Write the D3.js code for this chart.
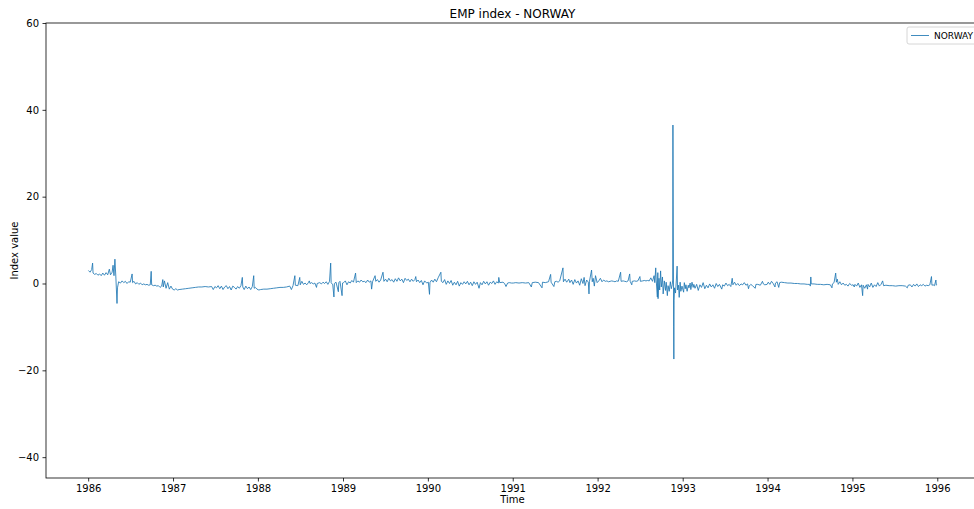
<!DOCTYPE html>
<html>
<head>
<meta charset="utf-8">
<script src="https://cdn.jsdelivr.net/npm/d3@7"></script>
<style>
  body { margin: 0; background: #fff; overflow: hidden; }
  svg { font-family: "DejaVu Sans", sans-serif; display: block; }
</style>
</head>
<body>
<div class="graphic"></div>
<script>
// EMP index for Norway (month-day, value) per year
const y1986 = [["01-02",3.0],["01-09",2.6],["01-16",3.2],["01-20",4.7],["01-22",2.4],["01-29",2.1],["02-05",2.3],["02-12",1.9],
  ["02-19",2.2],["02-26",1.8],["03-05",2.4],["03-12",1.9],["03-19",2.5],["03-26",2.0],["04-02",3.3],["04-07",2.0],["04-14",2.6],
  ["04-18",4.2],["04-22",1.8],["04-26",5.6],["04-30",1.5],["05-05",-4.6],["05-07",-1.0],["05-12",0.4],["05-20",0.1],["05-27",0.6],
  ["06-03",0.2],["06-10",0.5],["06-17",0.0],["06-24",0.4],["07-01",0.3],["07-09",2.2],["07-11",0.2],["07-17",0.5],["07-24",-0.1],
  ["07-31",0.2],["08-07",-0.2],["08-14",0.1],["08-21",-0.3],["08-28",-0.1],["09-04",-0.3],["09-11",-0.2],["09-18",-0.4],["09-25",-0.3],
  ["09-29",2.8],["10-01",-0.3],["10-09",-0.5],["10-16",-0.4],["10-23",-0.6],["10-30",-0.5],["11-06",-0.9],["11-13",-0.6],["11-18",0.9],
  ["11-20",-0.8],["11-25",0.6],["12-02",-1.1],["12-09",0.2],["12-16",-1.3],["12-23",-0.6],["12-30",-1.3]];
const y1987 = [["01-06",-1.5],["01-13",-1.2],["01-20",-1.5],["01-27",-1.4],["02-10",-1.3],["02-24",-1.2],["03-10",-1.1],["03-24",-1.0],
  ["04-07",-0.9],["04-21",-0.8],["05-05",-0.8],["05-19",-0.7],["06-02",-0.8],["06-16",-0.7],["06-23",-1.4],["06-30",-0.7],["07-07",-1.0],
  ["07-14",-0.5],["07-21",-1.2],["07-28",-0.6],["08-04",-1.4],["08-11",-0.8],["08-18",-0.5],["08-25",-1.2],["09-01",-0.7],["09-08",-1.5],
  ["09-15",-0.6],["09-22",-0.9],["09-29",-1.3],["10-06",-0.7],["10-13",-1.1],["10-20",-0.5],["10-26",1.4],["10-28",-0.8],["11-03",-1.4],
  ["11-10",-0.6],["11-17",-1.2],["11-24",-0.8],["12-01",-1.4],["12-08",-0.7],["12-14",1.8],["12-16",-1.1],["12-21",-0.9],["12-28",-1.3]];
const y1988 = [["01-05",-1.5],["01-12",-1.4],["01-26",-1.3],["02-09",-1.3],["02-23",-1.2],["03-08",-1.1],["03-22",-1.0],["04-05",-0.9],
  ["04-19",-0.9],["05-03",-0.8],["05-17",-0.6],["05-24",-1.4],["05-31",-0.5],["06-08",1.8],["06-10",-0.4],["06-21",-0.5],["06-29",1.4],
  ["07-01",-0.3],["07-08",0.5],["07-15",-0.2],["07-22",0.1],["07-29",-0.3],["08-05",0.2],["08-09",0.6],["08-12",0.0],["08-19",0.2],
  ["08-26",-0.1],["09-02",0.1],["09-09",-0.9],["09-12",0.0],["09-23",0.2],["09-30",-0.1],["10-07",0.3],["10-14",0.0],["10-21",0.4],
  ["10-28",-0.2],["11-04",0.5],["11-09",4.7],["11-11",0.2],["11-18",-0.3],["11-23",-3.1],["11-25",0.0],["12-02",0.3],["12-12",-1.9],
  ["12-14",0.2],["12-19",0.5],["12-28",-2.8],["12-30",0.1]];
const y1989 = [["01-04",0.2],["01-11",0.6],["01-18",-0.3],["01-25",0.4],["02-01",0.1],["02-08",0.7],["02-15",0.3],["02-24",2.4],
  ["02-27",0.2],["03-06",0.6],["03-13",0.3],["03-20",0.8],["03-27",0.4],["04-03",0.5],["04-10",0.2],["04-17",0.8],["04-24",0.3],
  ["05-01",0.6],["05-04",-1.3],["05-08",0.4],["05-19",1.8],["05-22",0.5],["05-29",0.9],["06-05",0.3],["06-12",0.8],["06-22",2.6],
  ["06-26",0.5],["07-03",1.0],["07-10",0.4],["07-17",1.2],["07-24",0.6],["07-31",0.9],["08-07",0.3],["08-14",1.1],["08-21",0.5],
  ["08-28",1.3],["09-04",0.6],["09-11",1.0],["09-18",0.2],["09-25",1.2],["10-02",0.7],["10-09",1.0],["10-16",0.4],["10-23",1.0],
  ["10-30",0.5],["11-06",0.9],["11-10",1.6],["11-13",0.4],["11-20",0.8],["11-27",0.2],["12-04",0.7],["12-11",-0.3],["12-18",0.6],
  ["12-27",0.1]];
const y1990 = [["01-03",0.3],["01-08",-2.5],["01-10",0.2],["01-17",0.8],["01-24",0.3],["01-31",1.0],["02-07",0.4],["02-14",1.3],
  ["02-26",2.6],["02-28",0.5],["03-07",0.2],["03-14",0.9],["03-21",-0.2],["03-28",0.6],["04-04",0.0],["04-11",0.7],["04-18",-0.4],
  ["04-25",0.3],["05-02",-0.3],["05-09",0.5],["05-16",-0.6],["05-23",0.2],["05-30",-0.2],["06-06",0.4],["06-13",-0.1],["06-20",0.5],
  ["06-27",-0.3],["07-04",0.3],["07-11",-0.5],["07-18",0.4],["07-25",-0.2],["08-01",0.3],["08-09",-1.1],["08-15",0.2],["08-22",-0.3],
  ["08-29",0.5],["09-05",-0.1],["09-12",0.4],["09-19",-0.4],["09-26",0.3],["10-03",0.0],["10-10",0.6],["10-17",-0.2],["10-24",0.4],
  ["10-31",0.1],["11-02",1.4],["11-06",0.2],["11-20",0.3],["11-27",0.0],["12-03",-0.7],["12-10",0.1],["12-17",0.2],["12-27",0.1]];
const y1991 = [["01-03",0.1],["01-14",0.2],["01-28",0.1],["02-11",0.2],["02-25",0.1],["03-11",0.2],["03-22",-0.8],["03-26",0.2],
  ["04-08",0.3],["04-22",0.2],["05-07",-1.0],["05-09",0.3],["05-21",0.2],["06-04",0.4],["06-13",2.1],["06-15",0.3],["06-27",-0.7],
  ["07-01",0.4],["07-08",0.5],["07-15",0.3],["07-22",0.6],["08-05",3.6],["08-07",0.4],["08-14",1.0],["08-21",0.3],["08-30",1.0],
  ["09-04",0.2],["09-11",0.8],["09-18",-0.2],["09-25",0.9],["10-02",0.1],["10-09",0.6],["10-16",-0.4],["10-23",1.1],["10-30",0.0],
  ["11-04",1.4],["11-08",-0.5],["11-15",0.8],["11-22",0.3],["11-25",-2.4],["11-27",0.5],["12-06",3.1],["12-09",0.4],["12-13",1.2],
  ["12-18",-0.6],["12-23",1.8],["12-30",0.2]];
const y1992 = [["01-06",0.6],["01-13",1.2],["01-20",0.4],["01-27",0.8],["02-03",0.5],["02-10",0.6],["02-17",0.4],["02-24",0.5],
  ["03-02",0.6],["03-09",0.5],["03-16",0.4],["03-23",0.6],["03-30",0.5],["04-09",2.6],["04-11",0.5],["04-20",0.6],["04-27",0.5],
  ["05-04",0.4],["05-11",0.6],["05-18",2.2],["05-20",0.5],["05-27",-0.3],["05-29",0.5],["06-08",0.6],["06-15",0.5],["06-22",0.6],
  ["07-01",1.6],["07-03",0.5],["07-13",0.6],["07-20",0.7],["07-27",0.6],["08-03",0.7],["08-10",0.6],["08-17",1.3],["08-24",0.5],
  ["08-31",1.8],["09-03",0.2],["09-07",3.6],["09-09",0.8],["09-14",-3.1],["09-16",2.5],["09-17",-3.5],["09-21",1.2],["09-24",-1.5],
  ["09-28",2.9],["10-01",-0.8],["10-06",1.5],["10-09",-2.4],["10-14",0.6],["10-19",-1.6],["10-22",0.3],["10-27",-2.8],["10-30",-0.5],
  ["11-04",-1.8],["11-09",0.4],["11-13",-1.2],["11-17",-0.3],["11-19",0.8],["11-20",36.5],["11-23",-10.0],["11-24",-17.4],
  ["11-25",-4.0],["11-27",-1.0],["12-01",-2.2],["12-04",0.1],["12-08",4.0],["12-10",-1.5],["12-14",-0.4],["12-17",-3.2],
  ["12-21",0.3],["12-24",-1.8],["12-29",-0.6]];
const y1993 = [["01-05",-2.0],["01-08",0.2],["01-12",-1.2],["01-15",-0.3],["01-20",-1.8],["01-25",-0.4],["01-28",-1.0],["02-02",0.1],
  ["02-05",-1.4],["02-10",0.3],["02-15",-0.9],["02-18",-0.2],["02-23",-1.1],["03-02",-0.2],["03-09",-1.6],["03-16",-0.3],["03-23",-0.9],
  ["03-30",0.2],["04-06",-1.2],["04-13",-0.4],["04-20",-1.0],["04-27",-0.1],["05-04",-0.8],["05-11",-0.3],["05-18",-1.1],["05-25",0.0],
  ["06-01",-0.7],["06-08",-0.2],["06-18",-1.3],["06-22",-0.3],["06-29",-0.6],["07-06",0.1],["07-13",-0.5],["07-20",-0.2],["07-27",-0.7],
  ["08-02",1.2],["08-05",-0.3],["08-12",0.3],["08-19",-0.4],["08-26",0.0],["09-02",-0.5],["09-09",-0.1],["09-16",-0.3],["09-23",0.2],
  ["09-30",-0.4],["10-07",-0.1],["10-11",-1.2],["10-14",-0.6],["10-21",-0.2],["10-28",-0.5],["11-09",-1.1],["11-12",-0.2],
  ["11-20",-0.2],["12-01",-0.4],["12-10",0.5],["12-14",-0.1],["12-20",-0.3],["12-30",-0.2]];
const y1994 = [["01-04",0.3],["01-11",-0.2],["01-18",0.5],["01-25",0.0],["02-02",-0.8],["02-04",0.1],["02-11",0.4],["02-18",-0.9],
  ["02-22",0.2],["03-01",0.3],["03-15",0.2],["03-29",0.1],["04-12",0.1],["04-26",0.0],["05-10",0.0],["05-24",-0.1],["06-07",-0.1],
  ["06-21",-0.2],["07-01",-0.2],["07-04",-0.6],["07-06",1.5],["07-08",-0.1],["07-20",-0.1],["08-03",-0.2],["08-17",-0.2],["08-31",-0.3],
  ["09-14",-0.2],["09-28",-0.3],["10-05",-1.0],["10-07",-0.1],["10-14",0.2],["10-21",2.4],["10-24",0.3],["10-28",1.0],["11-01",-0.2],
  ["11-08",0.4],["11-15",-0.3],["11-22",0.1],["11-29",-0.4],["12-06",-0.2],["12-13",-0.6],["12-20",0.0],["12-28",-0.4]];
const y1995 = [["01-04",-0.3],["01-09",-0.8],["01-12",-0.2],["01-19",-0.6],["01-26",0.1],["02-02",-0.9],["02-09",-0.3],["02-14",-2.8],
  ["02-16",-0.4],["02-23",-1.1],["03-02",-0.3],["03-07",-1.3],["03-09",-0.2],["03-16",-0.8],["03-23",0.1],["03-30",-0.9],["04-06",-0.3],
  ["04-13",-0.7],["04-20",0.2],["04-27",-0.6],["05-04",-0.2],["05-11",0.6],["05-15",-0.5],["05-25",-0.4],["06-08",-0.5],["06-22",-0.5],
  ["07-06",-0.6],["07-20",-0.5],["08-03",-0.5],["08-17",-0.6],["08-25",-1.0],["08-29",-0.4],["09-07",-0.3],["09-14",-0.8],["09-21",-0.2],
  ["09-28",-0.6],["10-05",-0.1],["10-12",-0.7],["10-19",-0.3],["10-26",-0.5],["11-02",-0.2],["11-09",-0.6],["11-16",-0.4],["11-23",-0.5],
  ["11-30",-0.3],["12-07",1.6],["12-09",-0.4],["12-14",-0.3],["12-20",-0.5],["12-26",0.8],["12-28",-0.4],["12-29",-0.3]];

const years = [1986, 1987, 1988, 1989, 1990, 1991, 1992, 1993, 1994, 1995];
const yearRows = [y1986, y1987, y1988, y1989, y1990, y1991, y1992, y1993, y1994, y1995];
const yTicks = [-40, -20, 0, 20, 40, 60];
const seriesName = 'NORWAY';
const chartTitle = 'EMP index - NORWAY';

const parse = d3.timeParse('%Y-%m-%d');
const data = [];
years.forEach((yr, i) => {
  yearRows[i].forEach(r => data.push({ date: parse(yr + '-' + r[0]), value: r[1] }));
});

const width = 974, height = 509;
const margin = { top: 23, right: -5, bottom: 31, left: 46 };

const svg = d3.select('.graphic').append('svg')
  .attr('width', width)
  .attr('height', height);

// matplotlib-style 5% padding on the time axis
const ext = d3.extent(data, d => d.date);
const pad = (ext[1] - ext[0]) * 0.05;
const x = d3.scaleTime()
  .domain([new Date(+ext[0] - pad), new Date(+ext[1] + pad)])
  .range([margin.left, width - margin.right]);
const y = d3.scaleLinear()
  .domain([-44.8, 60])
  .range([height - margin.bottom, margin.top]);

const line = d3.line()
  .x(d => x(d.date))
  .y(d => y(d.value));

svg.append('path')
  .datum(data)
  .attr('fill', 'none')
  .attr('stroke', '#1f77b4')
  .attr('stroke-width', 0.85)
  .attr('stroke-linejoin', 'round')
  .attr('d', line);

// axes
const xAxis = svg.append('g')
  .attr('transform', `translate(0,${height - margin.bottom})`)
  .call(d3.axisBottom(x).ticks(d3.timeYear.every(1)).tickFormat(d3.timeFormat('%Y')).tickSizeOuter(0).tickSize(3.5).tickPadding(3.5));
const yAxis = svg.append('g')
  .attr('transform', `translate(${margin.left},0)`)
  .call(d3.axisLeft(y).tickValues(yTicks).tickSizeOuter(0).tickSize(3.5).tickPadding(3.5));

[xAxis, yAxis].forEach(g => {
  g.select('.domain').remove();
  g.selectAll('line').attr('stroke', '#000').attr('stroke-width', 0.8);
  g.selectAll('text').attr('font-size', 10).attr('fill', '#000').attr('font-family', '"DejaVu Sans", sans-serif');
});

// frame
svg.append('rect')
  .attr('x', margin.left)
  .attr('y', margin.top)
  .attr('width', width - margin.right - margin.left)
  .attr('height', height - margin.bottom - margin.top)
  .attr('fill', 'none')
  .attr('stroke', '#000')
  .attr('stroke-width', 0.8);

// labels
svg.append('text')
  .attr('x', (margin.left + width - margin.right) / 2)
  .attr('y', 18)
  .attr('text-anchor', 'middle')
  .attr('font-size', 12)
  .text(chartTitle);

svg.append('text')
  .attr('x', (margin.left + width - margin.right) / 2)
  .attr('y', 503)
  .attr('text-anchor', 'middle')
  .attr('font-size', 10)
  .text('Time');

svg.append('text')
  .attr('transform', `translate(18,${(margin.top + height - margin.bottom) / 2}) rotate(-90)`)
  .attr('text-anchor', 'middle')
  .attr('font-size', 10)
  .text('Index value');

// legend
const lg = svg.append('g').attr('transform', 'translate(907,27)');
lg.append('rect')
  .attr('width', 72)
  .attr('height', 17)
  .attr('rx', 2)
  .attr('fill', '#fff')
  .attr('fill-opacity', 0.8)
  .attr('stroke', '#ccc')
  .attr('stroke-width', 0.8);
lg.append('line')
  .attr('x1', 4).attr('x2', 22)
  .attr('y1', 8.5).attr('y2', 8.5)
  .attr('stroke', '#1f77b4')
  .attr('stroke-width', 0.85);
lg.append('text')
  .attr('x', 27)
  .attr('y', 12)
  .attr('font-size', 9)
  .text(seriesName);
</script>
</body>
</html>
